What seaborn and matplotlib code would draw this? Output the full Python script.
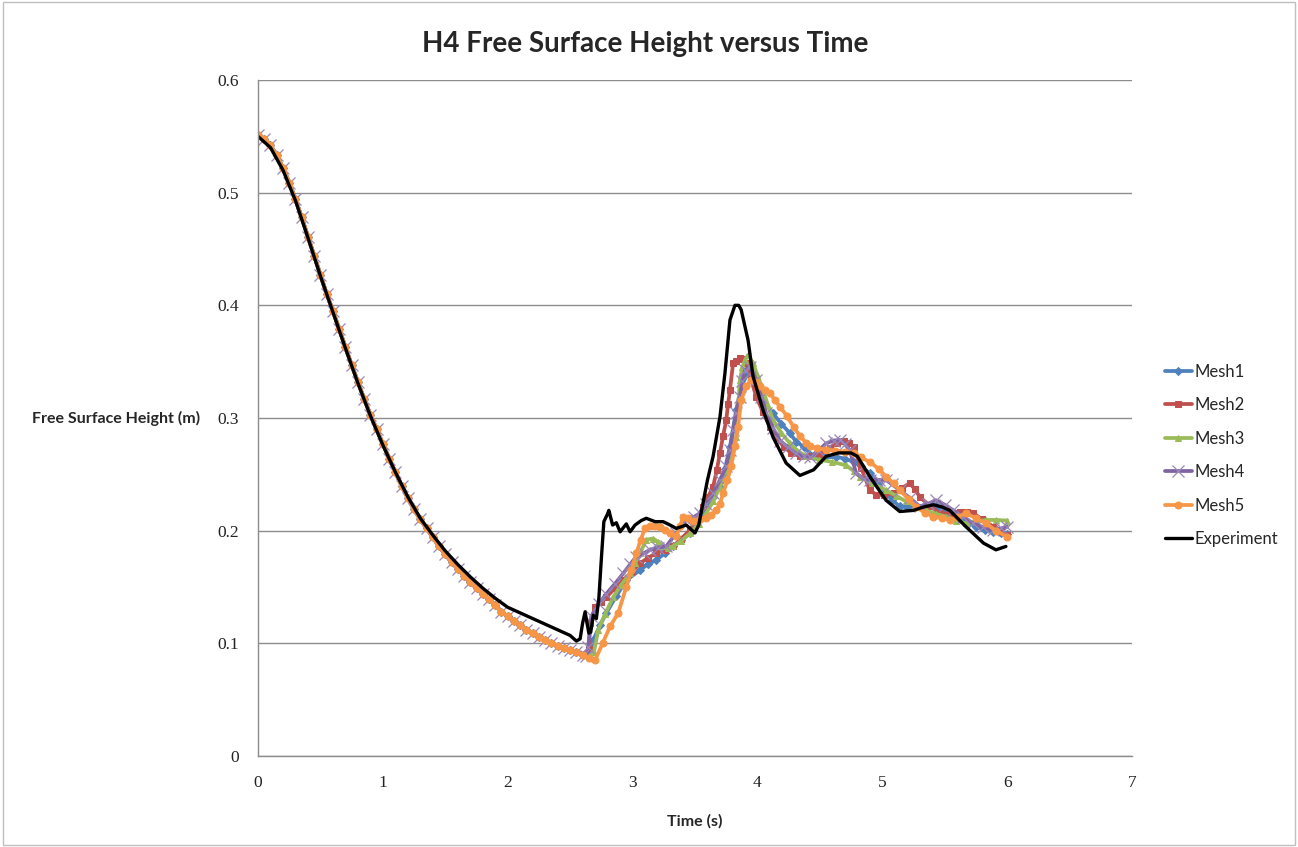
import numpy as np
import pandas as pd
import matplotlib
matplotlib.use("Agg")
import matplotlib.pyplot as plt
import seaborn as sns

# ---------------- data ----------------
descent_t = [0.00, 0.05, 0.10, 0.15, 0.20, 0.25, 0.30, 0.35, 0.40, 0.45, 0.50, 0.55,
             0.60, 0.65, 0.70, 0.75, 0.80, 0.85, 0.90, 0.95, 1.00, 1.05, 1.10, 1.15,
             1.20, 1.25, 1.30, 1.35, 1.40, 1.45, 1.50, 1.55, 1.60, 1.65, 1.70, 1.75,
             1.80, 1.85, 1.90, 1.95, 2.00, 2.05, 2.10, 2.15, 2.20, 2.25, 2.30, 2.35,
             2.40, 2.45, 2.50, 2.55, 2.60]
descent_h = [0.551, 0.548, 0.542, 0.533, 0.522, 0.509, 0.494, 0.478, 0.461, 0.444, 0.427, 0.410,
             0.395, 0.379, 0.363, 0.347, 0.332, 0.317, 0.303, 0.290, 0.277, 0.264, 0.252, 0.240,
             0.229, 0.219, 0.210, 0.202, 0.194, 0.186, 0.179, 0.172, 0.166, 0.160, 0.154, 0.149,
             0.144, 0.139, 0.134, 0.128, 0.124, 0.120, 0.116, 0.112, 0.109, 0.106, 0.103, 0.100,
             0.098, 0.096, 0.094, 0.092, 0.090]

mesh1_t = [2.65, 2.685, 2.74, 2.79, 2.87, 2.95, 3.06, 3.12, 3.19, 3.26, 3.325, 3.39, 3.46, 3.52,
           3.59, 3.645, 3.70, 3.74, 3.78, 3.83, 3.87, 3.925, 3.965, 4.00, 4.045, 4.125, 4.19,
           4.26, 4.31, 4.37, 4.45, 4.54, 4.63, 4.70, 4.77, 4.83, 4.90, 4.97, 5.03, 5.08, 5.14,
           5.20, 5.27, 5.35, 5.43, 5.51, 5.59, 5.67, 5.75, 5.82, 5.89, 5.95, 6.00]
mesh1_h = [0.088, 0.103, 0.116, 0.127, 0.142, 0.156, 0.165, 0.170, 0.174, 0.180, 0.186, 0.192,
           0.1975, 0.208, 0.221, 0.230, 0.239, 0.255, 0.2745, 0.307, 0.328, 0.340, 0.334, 0.325,
           0.316, 0.304, 0.295, 0.2865, 0.279, 0.2745, 0.266, 0.265, 0.2655, 0.264, 0.261, 0.257,
           0.251, 0.242, 0.233, 0.227, 0.2215, 0.221, 0.2215, 0.222, 0.2215, 0.217, 0.2125, 0.208,
           0.2035, 0.201, 0.199, 0.198, 0.197]

mesh2_t = [2.65, 2.66, 2.70, 2.745, 2.79, 2.86, 2.925, 2.99, 3.06, 3.125, 3.19, 3.26, 3.325,
           3.39, 3.46, 3.51, 3.565, 3.605, 3.645, 3.675, 3.70, 3.725, 3.75, 3.765, 3.78, 3.805,
           3.83, 3.86, 3.885, 3.91, 3.95, 3.99, 4.045, 4.10, 4.15, 4.21, 4.27, 4.34, 4.42, 4.50,
           4.58, 4.64, 4.69, 4.73, 4.77, 4.83, 4.90, 4.95, 5.01, 5.09, 5.16, 5.22, 5.26, 5.30,
           5.38, 5.46, 5.54, 5.62, 5.68, 5.73, 5.80, 5.89, 5.95, 6.00]
mesh2_h = [0.095, 0.118, 0.1325, 0.137, 0.141, 0.149, 0.156, 0.163, 0.171, 0.176, 0.180, 0.183,
           0.186, 0.193, 0.2005, 0.210, 0.221, 0.230, 0.239, 0.254, 0.269, 0.284, 0.298, 0.312,
           0.325, 0.3485, 0.351, 0.353, 0.352, 0.3485, 0.334, 0.319, 0.305, 0.292, 0.283, 0.2745,
           0.269, 0.266, 0.266, 0.268, 0.273, 0.278, 0.280, 0.278, 0.2745, 0.256, 0.236, 0.232,
           0.2315, 0.233, 0.238, 0.242, 0.237, 0.230, 0.222, 0.2155, 0.215, 0.217, 0.217, 0.2155,
           0.210, 0.2035, 0.199, 0.196]

mesh3_t = [2.65, 2.69, 2.725, 2.78, 2.845, 2.91, 2.98, 3.02, 3.06, 3.11, 3.165, 3.205, 3.245,
           3.285, 3.325, 3.39, 3.46, 3.53, 3.59, 3.645, 3.70, 3.74, 3.78, 3.83, 3.845, 3.86, 3.88,
           3.90, 3.925, 3.965, 4.00, 4.045, 4.085, 4.125, 4.19, 4.26, 4.32, 4.39, 4.49, 4.60,
           4.71, 4.77, 4.82, 4.92, 5.03, 5.11, 5.19, 5.27, 5.35, 5.43, 5.51, 5.59, 5.67, 5.75,
           5.83, 5.91, 6.00]
mesh3_h = [0.088, 0.092, 0.112, 0.126, 0.141, 0.152, 0.162, 0.171, 0.180, 0.192, 0.193, 0.190,
           0.186, 0.185, 0.186, 0.191, 0.1975, 0.206, 0.2155, 0.226, 0.239, 0.248, 0.257, 0.2835,
           0.310, 0.334, 0.345, 0.3515, 0.356, 0.3485, 0.338, 0.325, 0.311, 0.298, 0.287, 0.2775,
           0.271, 0.266, 0.263, 0.261, 0.258, 0.253, 0.248, 0.242, 0.236, 0.231, 0.226, 0.222,
           0.218, 0.215, 0.2125, 0.209, 0.2065, 0.208, 0.2095, 0.2095, 0.209]

mesh4_t = [2.63, 2.645, 2.67, 2.73, 2.79, 2.86, 2.925, 2.98, 3.03, 3.09, 3.14, 3.20, 3.27, 3.35,
           3.43, 3.49, 3.54, 3.59, 3.645, 3.70, 3.75, 3.78, 3.805, 3.83, 3.86, 3.88, 3.90, 3.94,
           3.99, 4.03, 4.07, 4.125, 4.18, 4.245, 4.31, 4.37, 4.42, 4.49, 4.55, 4.61, 4.66, 4.70,
           4.74, 4.79, 4.85, 4.90, 4.97, 5.03, 5.08, 5.14, 5.22, 5.30, 5.37, 5.43, 5.50, 5.57,
           5.65, 5.73, 5.81, 5.89, 5.95, 6.00]
mesh4_h = [0.089, 0.097, 0.124, 0.135, 0.144, 0.153, 0.162, 0.170, 0.177, 0.180, 0.183, 0.185,
           0.186, 0.198, 0.2095, 0.212, 0.2155, 0.224, 0.233, 0.245, 0.257, 0.272, 0.289, 0.304,
           0.319, 0.333, 0.3425, 0.3455, 0.334, 0.319, 0.304, 0.291, 0.280, 0.274, 0.2685, 0.266,
           0.2655, 0.271, 0.2775, 0.280, 0.2805, 0.277, 0.2715, 0.251, 0.246, 0.245, 0.245, 0.245,
           0.241, 0.236, 0.229, 0.2215, 0.224, 0.227, 0.223, 0.218, 0.212, 0.2065, 0.203, 0.2005,
           0.202, 0.2035]

mesh5_t = [2.65, 2.70, 2.76, 2.82, 2.885, 2.95, 2.99, 3.03, 3.065, 3.10, 3.14, 3.18, 3.22, 3.26,
           3.30, 3.35, 3.38, 3.405, 3.445, 3.485, 3.54, 3.59, 3.63, 3.67, 3.70, 3.725, 3.76, 3.79,
           3.82, 3.845, 3.87, 3.91, 3.95, 3.985, 4.02, 4.06, 4.10, 4.14, 4.18, 4.235, 4.29, 4.34,
           4.39, 4.42, 4.48, 4.55, 4.62, 4.70, 4.77, 4.83, 4.90, 4.97, 5.03, 5.09, 5.14, 5.21,
           5.27, 5.34, 5.41, 5.48, 5.54, 5.60, 5.67, 5.75, 5.83, 5.91, 6.00]
mesh5_h = [0.087, 0.085, 0.100, 0.115, 0.127, 0.150, 0.165, 0.180, 0.192, 0.202, 0.204, 0.204,
           0.2035, 0.201, 0.198, 0.195, 0.204, 0.212, 0.211, 0.209, 0.210, 0.211, 0.214, 0.218,
           0.224, 0.233, 0.245, 0.257, 0.275, 0.292, 0.316, 0.328, 0.334, 0.332, 0.328, 0.325,
           0.322, 0.316, 0.310, 0.302, 0.292, 0.284, 0.278, 0.275, 0.273, 0.272, 0.271, 0.270,
           0.269, 0.265, 0.261, 0.255, 0.248, 0.242, 0.236, 0.228, 0.221, 0.216, 0.2125, 0.211,
           0.2095, 0.212, 0.2155, 0.211, 0.2065, 0.200, 0.1945]

exp_t = [0.0, 0.1, 0.2, 0.3, 0.4, 0.5, 0.6, 0.7, 0.8, 0.9, 1.0, 1.1, 1.2, 1.3, 1.4, 1.5, 1.6,
         1.7, 1.8, 1.9, 2.0, 2.1, 2.2, 2.3, 2.4, 2.5, 2.55, 2.58, 2.60, 2.62, 2.635, 2.65,
         2.665, 2.685, 2.71, 2.73, 2.75, 2.77, 2.80, 2.81, 2.84, 2.87, 2.90, 2.95, 2.98,
         3.02, 3.07, 3.11, 3.18, 3.245, 3.30, 3.35, 3.43, 3.47, 3.50, 3.53, 3.565, 3.60,
         3.645, 3.70, 3.74, 3.78, 3.82, 3.85, 3.87, 3.925, 3.965, 4.045, 4.125, 4.23, 4.34,
         4.45, 4.55, 4.65, 4.75, 4.80, 4.90, 5.03, 5.14, 5.25, 5.33, 5.41, 5.48, 5.54, 5.67,
         5.81, 5.91, 5.99]
exp_h = [0.550, 0.540, 0.520, 0.493, 0.460, 0.426, 0.394, 0.362, 0.331, 0.302, 0.276, 0.252,
         0.230, 0.211, 0.196, 0.182, 0.170, 0.159, 0.149, 0.140, 0.132, 0.127, 0.122, 0.117,
         0.112, 0.107, 0.102, 0.104, 0.118, 0.128, 0.118, 0.109, 0.110, 0.125, 0.122, 0.140,
         0.175, 0.208, 0.215, 0.218, 0.205, 0.207, 0.199, 0.206, 0.199, 0.205, 0.209, 0.211,
         0.208, 0.208, 0.205, 0.202, 0.205, 0.201, 0.198, 0.205, 0.225, 0.245, 0.266, 0.301,
         0.340, 0.387, 0.400, 0.400, 0.396, 0.369, 0.337, 0.307, 0.283, 0.260, 0.249, 0.254,
         0.266, 0.269, 0.269, 0.266, 0.248, 0.227, 0.217, 0.218, 0.221, 0.223, 0.221, 0.218,
         0.2035, 0.189, 0.183, 0.186]

series_names = ["Mesh1", "Mesh2", "Mesh3", "Mesh4", "Mesh5", "Experiment"]
x_ticks = [0, 1, 2, 3, 4, 5, 6, 7]
y_ticks = [0, 0.1, 0.2, 0.3, 0.4, 0.5, 0.6]
y_tick_labels = ["0", "0.1", "0.2", "0.3", "0.4", "0.5", "0.6"]

# ---------------- figure ----------------
sns.set_style("white")
plt.rcParams["font.family"] = ["Lato", "DejaVu Sans"]

fig = plt.figure(figsize=(12.98, 8.47), dpi=100)
ax = fig.add_axes([258 / 1298, 1 - 756 / 847, (1132 - 258) / 1298, (756 - 80) / 847])

meshes = [
    (mesh1_t, mesh1_h, "#4F81BD", "D", 4.0),
    (mesh2_t, mesh2_h, "#C0504D", "s", 4.8),
    (mesh3_t, mesh3_h, "#9BBB59", "^", 5.0),
    (mesh4_t, mesh4_h, "#8064A2", "x", 8.0),
    (mesh5_t, mesh5_h, "#F79646", "o", 5.0),
]

for name, (tt, hh, col, mk, ms) in zip(series_names[:5], meshes):
    t_all = descent_t + tt
    h_all = descent_h + hh
    df = pd.DataFrame({"t": t_all, "h": h_all})
    if mk == "x":
        sns.lineplot(data=df, x="t", y="h", ax=ax, sort=False, estimator=None,
                     color=col, lw=2.7, marker="x", markersize=ms,
                     markeredgecolor="#9a88b8", markeredgewidth=0.9, label=name)
    else:
        sns.lineplot(data=df, x="t", y="h", ax=ax, sort=False, estimator=None,
                     color=col, lw=2.7, marker=mk, markersize=ms,
                     markeredgecolor=col, markerfacecolor=col, label=name)

df_exp = pd.DataFrame({"t": exp_t, "h": exp_h})
sns.lineplot(data=df_exp, x="t", y="h", ax=ax, sort=False, estimator=None,
             color="black", lw=2.4, label="Experiment")

ax.set_xlim(0, 7)
ax.set_ylim(0, 0.6)
ax.set_xticks(x_ticks)
ax.set_yticks(y_ticks)
ax.set_yticklabels(y_tick_labels)
ax.grid(axis="y", color="#8c8c8c", lw=1.0)
ax.grid(axis="x", visible=False)
ax.set_axisbelow(True)
for s in ["top", "right"]:
    ax.spines[s].set_visible(False)
for s in ["left", "bottom"]:
    ax.spines[s].set_color("#8c8c8c")
    ax.spines[s].set_linewidth(1.0)
ax.tick_params(axis="both", which="both", direction="out", length=5, width=1.0,
               color="#8c8c8c", labelsize=12.5, pad=9)
for lab in ax.get_xticklabels() + ax.get_yticklabels():
    lab.set_fontfamily(["Liberation Serif", "DejaVu Serif"])
    lab.set_color("#222222")

ax.set_xlabel("Time (s)", fontsize=11.5, fontweight="bold", labelpad=16)
ax.set_ylabel("Free Surface Height (m)", fontsize=11.5, fontweight="bold",
              rotation=0, ha="right", va="center", labelpad=12)

fig.suptitle("H4 Free Surface Height versus Time", x=645 / 1298, y=1 - 44 / 847,
             fontsize=20, fontweight="bold", va="center")

leg = ax.legend(loc="center left", bbox_to_anchor=(1.03, 0.4445), frameon=False,
                fontsize=12, handlelength=1.6, handletextpad=0.2, labelspacing=1.05,
                borderaxespad=0)

# light border around the whole chart area
fig.patches.append(plt.Rectangle((0.002, 0.002), 0.996, 0.996, transform=fig.transFigure,
                                 fill=False, edgecolor="#bfbfbf", lw=1.0))

fig.savefig("out.png", dpi=100)
